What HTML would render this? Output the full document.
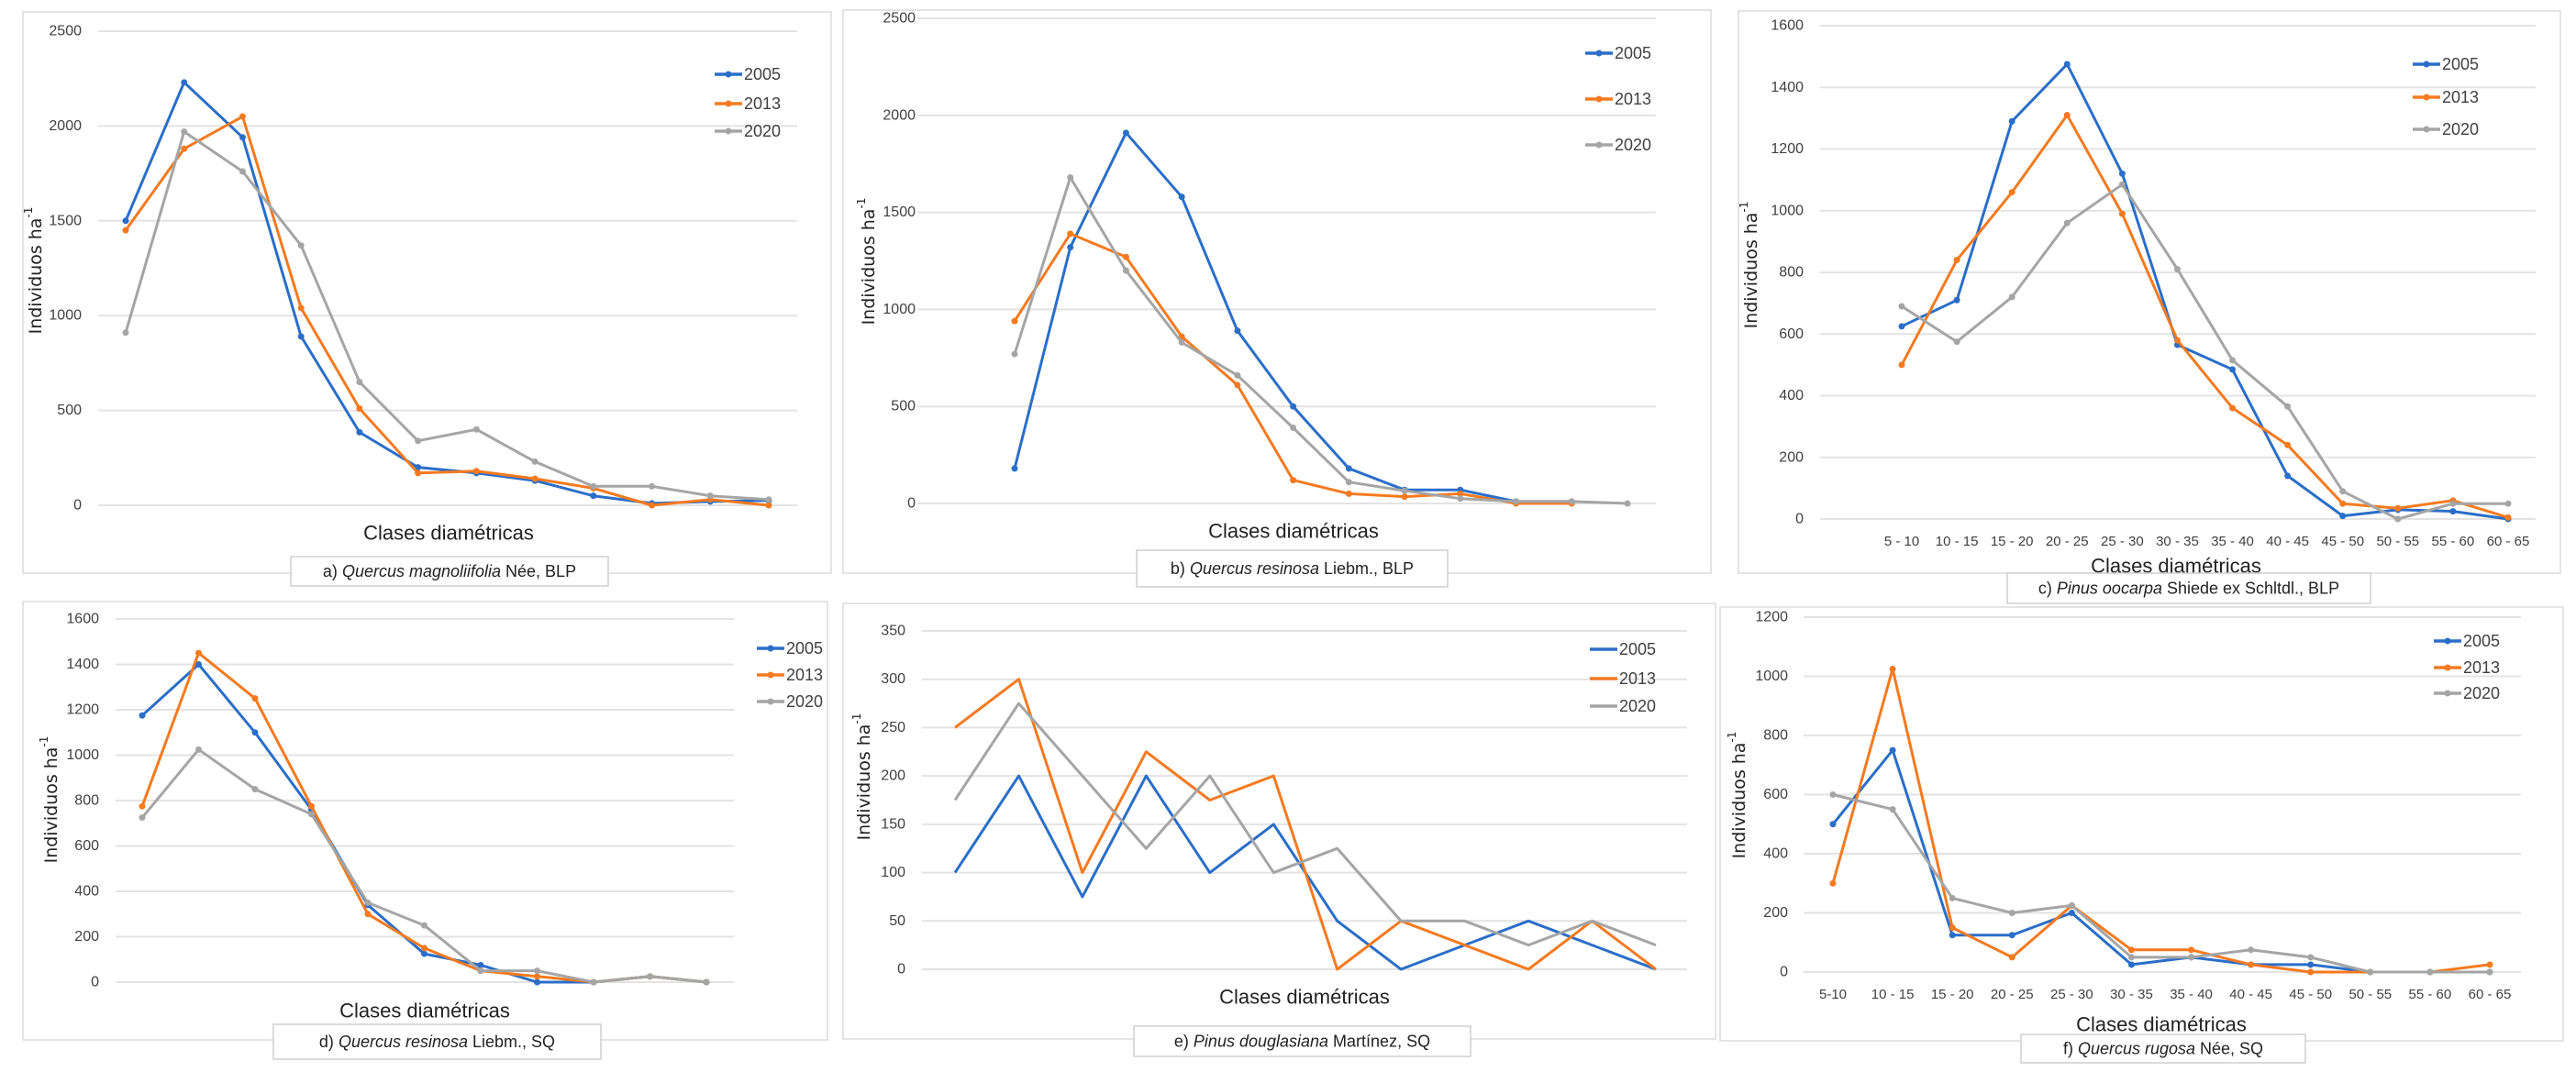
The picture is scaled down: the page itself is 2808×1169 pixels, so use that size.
<!DOCTYPE html>
<html><head><meta charset="utf-8"><style>
html,body{margin:0;padding:0;background:#fff;}
svg{display:block;}
text{font-family:"Liberation Sans",sans-serif;}
</style></head><body>
<svg id="fig" width="2808" height="1169" viewBox="0 0 2808 1169" xmlns="http://www.w3.org/2000/svg"></svg>
<script>
// ---- data ----
const yearLabels = ["2005","2013","2020"];
const classLabels = ["5 - 10","10 - 15","15 - 20","20 - 25","25 - 30","30 - 35","35 - 40","40 - 45","45 - 50","50 - 55","55 - 60","60 - 65"];
const classLabelsF = ["5-10","10 - 15","15 - 20","20 - 25","25 - 30","30 - 35","35 - 40","40 - 45","45 - 50","50 - 55","55 - 60","60 - 65"];

const aTicks = [0,500,1000,1500,2000,2500];
const a2005 = [1500,2230,1940,890,385,200,170,130,50,10,20,25];
const a2013 = [1450,1880,2050,1040,510,170,180,140,90,0,30,0];
const a2020 = [910,1970,1760,1370,650,340,400,230,100,100,50,30];

const bTicks = [0,500,1000,1500,2000,2500];
const b2005 = [180,1320,1910,1580,890,500,180,70,70,10,10,null];
const b2013 = [940,1390,1270,860,610,120,50,35,50,0,0,null];
const b2020 = [770,1680,1200,830,660,390,110,65,25,10,10,0];

const cTicks = [0,200,400,600,800,1000,1200,1400,1600];
const c2005 = [625,710,1290,1475,1120,565,485,140,10,30,25,0];
const c2013 = [500,840,1060,1310,990,580,360,240,50,35,60,5];
const c2020 = [690,575,720,960,1085,810,515,365,90,0,50,50];

const dTicks = [0,200,400,600,800,1000,1200,1400,1600];
const d2005 = [1175,1400,1100,760,340,125,75,0,0,25,0];
const d2013 = [775,1450,1250,775,300,150,50,25,0,25,0];
const d2020 = [725,1025,850,740,350,250,50,50,0,25,0];

const eTicks = [0,50,100,150,200,250,300,350];
const e2005 = [100,200,75,200,100,150,50,0,25,50,25,0];
const e2013 = [250,300,100,225,175,200,0,50,25,0,50,0];
const e2020 = [175,275,200,125,200,100,125,50,50,25,50,25];

const fTicks = [0,200,400,600,800,1000,1200];
const f2005 = [500,750,125,125,200,25,50,25,25,0,0,0];
const f2013 = [300,1025,150,50,225,75,75,25,0,0,0,25];
const f2020 = [600,550,250,200,225,50,50,75,50,0,0,0];

// ---- layout ----
const colors = ["#2b6ec8","#f47a20","#a5a5a5"];
const NS = "http://www.w3.org/2000/svg";
const svg = document.getElementById("fig");
function mk(tag, attrs, parent){ const e=document.createElementNS(NS,tag); for(const k in attrs) e.setAttribute(k,attrs[k]); (parent||svg).appendChild(e); return e; }

const panels = [
 {id:"a", series:[a2005,a2013,a2020], ticks:aTicks, n:12, cats:null, px0:137, px1:838, py0:551, pyTop:34, gx0:107, gx1:869, tickX:89,
  box:[25,13,906,625], leg:[779,[81,113,143]], yt:[39,295], xt:[489,581], markers:true,
  cap:[317,607,346,32], capParts:["a) ","Quercus magnoliifolia"," Née, BLP"]},
 {id:"b", series:[b2005,b2013,b2020], ticks:bTicks, n:12, cats:null, px0:1106, px1:1774, py0:549, pyTop:20, gx0:1000, gx1:1805, tickX:998,
  box:[919,11,1865,625], leg:[1728,[58,108,158]], yt:[947,285], xt:[1410,579], markers:true,
  cap:[1239,600,339,40], capParts:["b) ","Quercus resinosa"," Liebm., BLP"]},
 {id:"c", series:[c2005,c2013,c2020], ticks:cTicks, n:12, cats:classLabels, catY:595, px0:2073, px1:2734, py0:566, pyTop:28, gx0:1984, gx1:2764, tickX:1966,
  box:[1895,12,2791,625], leg:[2630,[70,106,141]], yt:[1909,289], xt:[2372,617], markers:true,
  cap:[2188,625,396,33], capParts:["c) ","Pinus oocarpa"," Shiede ex Schltdl., BLP"]},
 {id:"d", series:[d2005,d2013,d2020], ticks:dTicks, n:11, cats:null, px0:155, px1:770, py0:1071, pyTop:675, gx0:126, gx1:800, tickX:108,
  box:[25,656,902,1134], leg:[825,[707,736,765]], yt:[56,872], xt:[463,1102], markers:true,
  cap:[298,1117,357,38], capParts:["d) ","Quercus resinosa"," Liebm., SQ"]},
 {id:"e", series:[e2005,e2013,e2020], ticks:eTicks, n:12, cats:null, px0:1041, px1:1805, py0:1057, pyTop:688, gx0:1005, gx1:1839, tickX:987,
  box:[919,658,1870,1133], leg:[1733,[708,740,770]], yt:[942,847], xt:[1422,1087], markers:false,
  cap:[1236,1119,367,33], capParts:["e) ","Pinus douglasiana"," Martínez, SQ"]},
 {id:"f", series:[f2005,f2013,f2020], ticks:fTicks, n:12, cats:classLabelsF, catY:1089, px0:1998, px1:2714, py0:1060, pyTop:673, gx0:1966, gx1:2748, tickX:1949,
  box:[1875,662,2794,1135], leg:[2653,[699,728,756]], yt:[1896,867], xt:[2356,1117], markers:true,
  cap:[2203,1128,310,31], capParts:["f) ","Quercus rugosa"," Née, SQ"]}
];

panels.forEach(p=>{
  const g = mk("g",{});
  
  
  const bx = mk("rect",{x:p.box[0],y:p.box[1],width:p.box[2]-p.box[0],height:p.box[3]-p.box[1],fill:"#fff",stroke:"#dcdcdc","stroke-width":1.5},g);
  
  
  const ymax = p.ticks[p.ticks.length-1];
  const yS = v => p.py0 - (v/ymax)*(p.py0-p.pyTop);
  const xS = i => p.px0 + i*(p.px1-p.px0)/(p.n-1);
  // gridlines & ticks
  p.ticks.forEach(t=>{
    const gl = mk("line",{x1:p.gx0,x2:p.gx1,y1:yS(t),y2:yS(t),stroke:"#e3e3e3","stroke-width":2},g);
    
    
    const tl = mk("text",{x:p.tickX,y:yS(t),"text-anchor":"end","dominant-baseline":"central","font-size":16,fill:"#404040"},g);
    tl.textContent = t;
    
    
  });
  if(p.cats){
    p.cats.forEach((c,i)=>{
      const cl = mk("text",{x:xS(i),y:p.catY,"text-anchor":"middle","font-size":15,fill:"#404040"},g);
      cl.textContent = c;
      
      
    });
  }
  // series
  p.series.forEach((s,si)=>{
    let d=""; let started=false;
    s.forEach((v,i)=>{ if(v===null){started=false;return;} d += (started?"L":"M")+xS(i).toFixed(1)+" "+yS(v).toFixed(1)+" "; started=true; });
    const path = mk("path",{d:d,fill:"none",stroke:colors[si],"stroke-width":3,"stroke-linejoin":"round"},g);
    
    
    if(p.markers){
      s.forEach((v,i)=>{ if(v===null) return;
        const m = mk("circle",{cx:xS(i),cy:yS(v),r:3.5,fill:colors[si]},g);
        
        
      });
    }
    // legend
    const ly = p.leg[1][si], lx = p.leg[0];
    const ll = mk("line",{x1:lx,x2:lx+30,y1:ly,y2:ly,stroke:colors[si],"stroke-width":3.5},g);
    
    
    if(p.markers){ const lm = mk("circle",{cx:lx+15,cy:ly,r:3.5,fill:colors[si]},g);
      
       }
    const lt = mk("text",{x:lx+32,y:ly,"dominant-baseline":"central","font-size":18,fill:"#404040"},g);
    lt.textContent = yearLabels[si];
    
    
  });
  // axis titles
  const yt = mk("text",{x:p.yt[0],y:p.yt[1],"text-anchor":"middle","dominant-baseline":"central","font-size":19,fill:"#222",transform:`rotate(-90 ${p.yt[0]} ${p.yt[1]})`,style:"font-family:'DejaVu Sans',sans-serif"},g);
  yt.innerHTML = 'Individuos ha<tspan dy="-8" font-size="12">-1</tspan>';
  
  
  const xt = mk("text",{x:p.xt[0],y:p.xt[1],"text-anchor":"middle","dominant-baseline":"central","font-size":22,fill:"#222"},g);
  xt.textContent = "Clases diamétricas";
  
  
  // caption
  const cb = mk("rect",{x:p.cap[0],y:p.cap[1],width:p.cap[2],height:p.cap[3],fill:"#fff",stroke:"#cfcfcf","stroke-width":1.5},g);
  
  
  const ct = mk("text",{x:p.cap[0]+p.cap[2]/2,y:p.cap[1]+p.cap[3]/2,"text-anchor":"middle","dominant-baseline":"central","font-size":18,fill:"#222"},g);
  ct.innerHTML = p.capParts[0]+'<tspan font-style="italic">'+p.capParts[1]+'</tspan>'+p.capParts[2];
  
  
});
</script>
</body></html>
